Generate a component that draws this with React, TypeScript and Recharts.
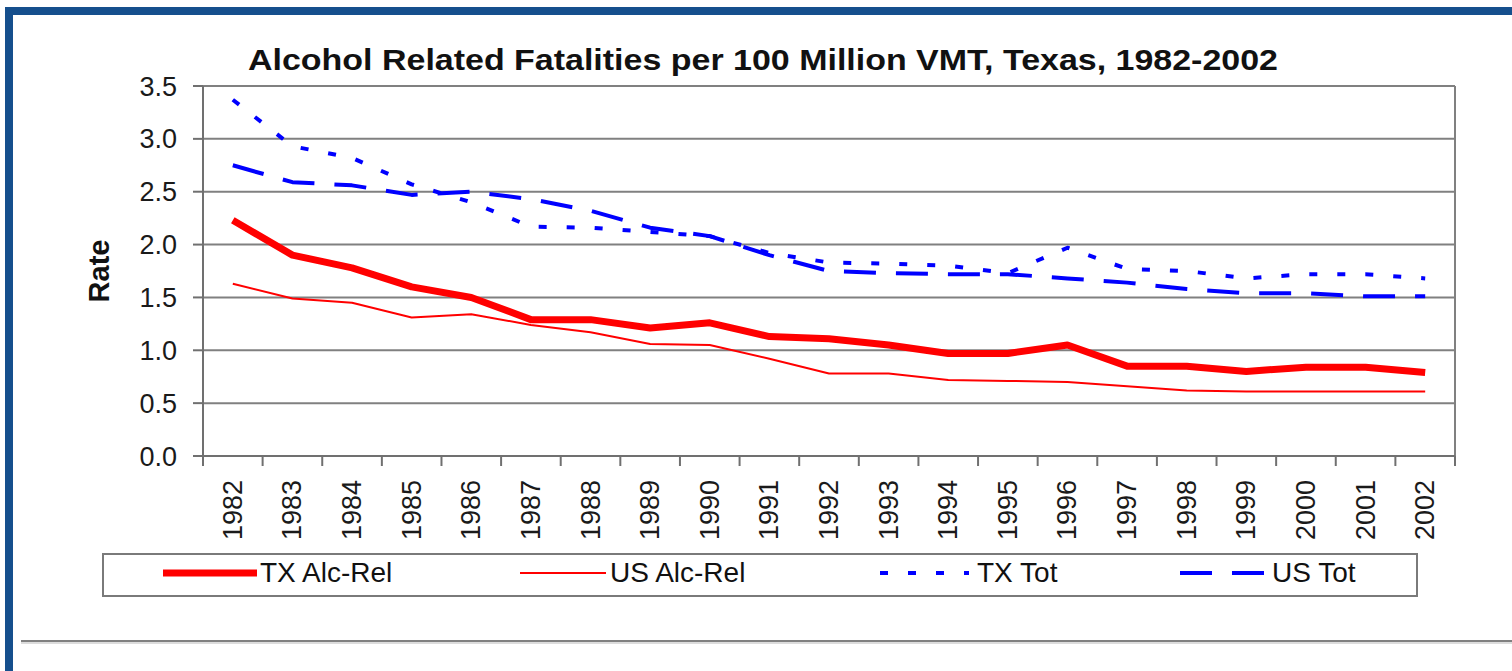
import React from 'react';
import { LineChart, Line, XAxis, YAxis, CartesianGrid, ReferenceLine, Legend } from 'recharts';

const years = ['1982', '1983', '1984', '1985', '1986', '1987', '1988', '1989', '1990', '1991', '1992', '1993', '1994', '1995', '1996', '1997', '1998', '1999', '2000', '2001', '2002'];
const txAlcRel = [2.23, 1.9, 1.78, 1.6, 1.5, 1.29, 1.29, 1.21, 1.26, 1.13, 1.11, 1.05, 0.97, 0.97, 1.05, 0.85, 0.85, 0.8, 0.84, 0.84, 0.79];
const usAlcRel = [1.63, 1.49, 1.45, 1.31, 1.34, 1.24, 1.17, 1.06, 1.05, 0.92, 0.78, 0.78, 0.72, 0.71, 0.7, 0.66, 0.62, 0.61, 0.61, 0.61, 0.61];
const txTot = [3.37, 2.93, 2.82, 2.57, 2.4, 2.17, 2.16, 2.12, 2.08, 1.92, 1.83, 1.82, 1.8, 1.73, 1.97, 1.77, 1.75, 1.68, 1.72, 1.72, 1.68];
const usTot = [2.75, 2.59, 2.56, 2.47, 2.5, 2.43, 2.32, 2.16, 2.08, 1.9, 1.75, 1.73, 1.72, 1.72, 1.68, 1.64, 1.58, 1.54, 1.54, 1.51, 1.51];
const yTicks = [0, 0.5, 1, 1.5, 2, 2.5, 3, 3.5];

const title = 'Alcohol Related Fatalities per 100 Million VMT, Texas, 1982-2002';
const yLabel = 'Rate';

const series = [
  { key: 'txAlc', name: 'TX Alc-Rel', color: '#ff0000', width: 7, dash: undefined as string | undefined },
  { key: 'usAlc', name: 'US Alc-Rel', color: '#ff0000', width: 2, dash: undefined as string | undefined },
  { key: 'txTot', name: 'TX Tot', color: '#0000ff', width: 4, dash: '8 20' },
  { key: 'usTot', name: 'US Tot', color: '#0000ff', width: 4, dash: '32 20' },
];

// legend layout (offsets inside legend box): sample start, sample length, text start
const legendLayout = [
  { lineX: 59, lineLen: 94, textX: 156 },
  { lineX: 416, lineLen: 86, textX: 506 },
  { lineX: 776, lineLen: 89, textX: 873 },
  { lineX: 1076, lineLen: 85, textX: 1168 },
];

const data = years.map((year, i) => ({
  i,
  year,
  txAlc: txAlcRel[i],
  usAlc: usAlcRel[i],
  txTot: txTot[i],
  usTot: usTot[i],
}));

const xTickValues: number[] = [];
for (let k = 0; k <= years.length * 2; k++) xTickValues.push(k / 2 - 0.5);

const FONT = '"Liberation Sans", Arial, sans-serif';
const TICK_SIZE = 10;
const TICK_MARGIN = 14;

function XTick(props: any) {
  const { x, y, payload } = props;
  const v = payload.value as number;
  if (Number.isInteger(v)) {
    return (
      <text
        x={x}
        y={y}
        transform={`rotate(-90 ${x} ${y})`}
        textAnchor="end"
        dominantBaseline="central"
        fontSize={27}
        fill="#1a1a1a"
        fontFamily={FONT}
      >
        {years[v]}
      </text>
    );
  }
  return <line x1={x} x2={x} y1={y - TICK_MARGIN - TICK_SIZE} y2={y - TICK_MARGIN} stroke="#707070" strokeWidth={2} />;
}

function LegendBox() {
  return (
    <div
      style={{
        position: 'relative',
        width: 1316,
        height: 44,
        boxSizing: 'border-box',
        border: '2px solid #7a7a7a',
        background: '#fff',
        fontFamily: FONT,
      }}
    >
      {series.map((s, idx) => {
        const l = legendLayout[idx];
        return (
          <React.Fragment key={s.key}>
            <svg style={{ position: 'absolute', left: l.lineX, top: 0 }} width={l.lineLen} height={40}>
              <line x1={0} x2={l.lineLen} y1={18} y2={18} stroke={s.color} strokeWidth={s.width} strokeDasharray={s.dash} />
            </svg>
            <span
              style={{
                position: 'absolute',
                left: l.textX,
                top: 0,
                height: 36,
                lineHeight: '36px',
                fontSize: 28,
                color: '#111',
                whiteSpace: 'nowrap',
              }}
            >
              {s.name}
            </span>
          </React.Fragment>
        );
      })}
    </div>
  );
}

export default function App() {
  return (
    <div style={{ position: 'absolute', left: 0, top: 0, width: 1512, height: 671, background: '#fff', overflow: 'hidden' }}>
      <div style={{ position: 'absolute', left: 5, top: 7, width: 1507, height: 8, background: '#154f8d' }} />
      <div style={{ position: 'absolute', left: 5, top: 7, width: 8, height: 664, background: '#154f8d' }} />
      <div style={{ position: 'absolute', left: 21, top: 640, width: 1491, height: 2, background: '#808080' }} />
      <div style={{ position: 'absolute', left: 21, top: 642, width: 1491, height: 2, background: '#dcdcdc' }} />
      <div style={{ position: 'absolute', left: 0, top: 0 }}>
        <LineChart width={1512} height={671} data={data} margin={{ top: 86, right: 57, bottom: 115, left: 0 }}>
          <CartesianGrid vertical={false} stroke="#808080" strokeWidth={2} />
          <ReferenceLine x={20.5} stroke="#808080" strokeWidth={2} />
          <XAxis
            dataKey="i"
            type="number"
            domain={[-0.5, 20.5]}
            allowDataOverflow
            ticks={xTickValues}
            interval={0}
            tick={<XTick />}
            tickLine={false}
            tickSize={TICK_SIZE}
            tickMargin={TICK_MARGIN}
            height={100}
            axisLine={{ stroke: '#707070', strokeWidth: 2 }}
          />
          <YAxis
            domain={[0, 3.5]}
            ticks={yTicks}
            interval={0}
            width={203}
            tickFormatter={(v: number) => v.toFixed(1)}
            tick={{ fontSize: 27, fill: '#1a1a1a', fontFamily: FONT }}
            tickSize={10}
            tickMargin={16}
            tickLine={{ stroke: '#707070', strokeWidth: 2 }}
            axisLine={{ stroke: '#707070', strokeWidth: 2 }}
            label={(props: any) => {
              const vb = props.viewBox || {};
              const cy = (vb.y ?? 86) + (vb.height ?? 370) / 2;
              return (
                <text
                  x={99}
                  y={cy}
                  transform={`rotate(-90 99 ${cy})`}
                  textAnchor="middle"
                  dominantBaseline="central"
                  fontSize={29}
                  fontWeight="bold"
                  fill="#111"
                  fontFamily={FONT}
                >
                  {yLabel}
                </text>
              );
            }}
          />
          {series.map((s) => (
            <Line
              key={s.key}
              type="linear"
              dataKey={s.key}
              name={s.name}
              stroke={s.color}
              strokeWidth={s.width}
              strokeDasharray={s.dash}
              strokeLinejoin="round"
              dot={false}
              activeDot={false}
              isAnimationActive={false}
            />
          ))}
          <Legend
            layout="horizontal"
            verticalAlign="middle"
            align="center"
            wrapperStyle={{ position: 'absolute', left: 102, top: 553, width: 1316, height: 44 }}
            content={() => <LegendBox />}
          />
        </LineChart>
      </div>
      <svg style={{ position: 'absolute', left: 0, top: 0 }} width={1512} height={86}>
        <text
          x={763}
          y={70}
          textAnchor="middle"
          fontSize={29}
          fontWeight="bold"
          fill="#111"
          fontFamily={FONT}
          textLength={1030}
          lengthAdjust="spacingAndGlyphs"
        >
          {title}
        </text>
      </svg>
    </div>
  );
}
